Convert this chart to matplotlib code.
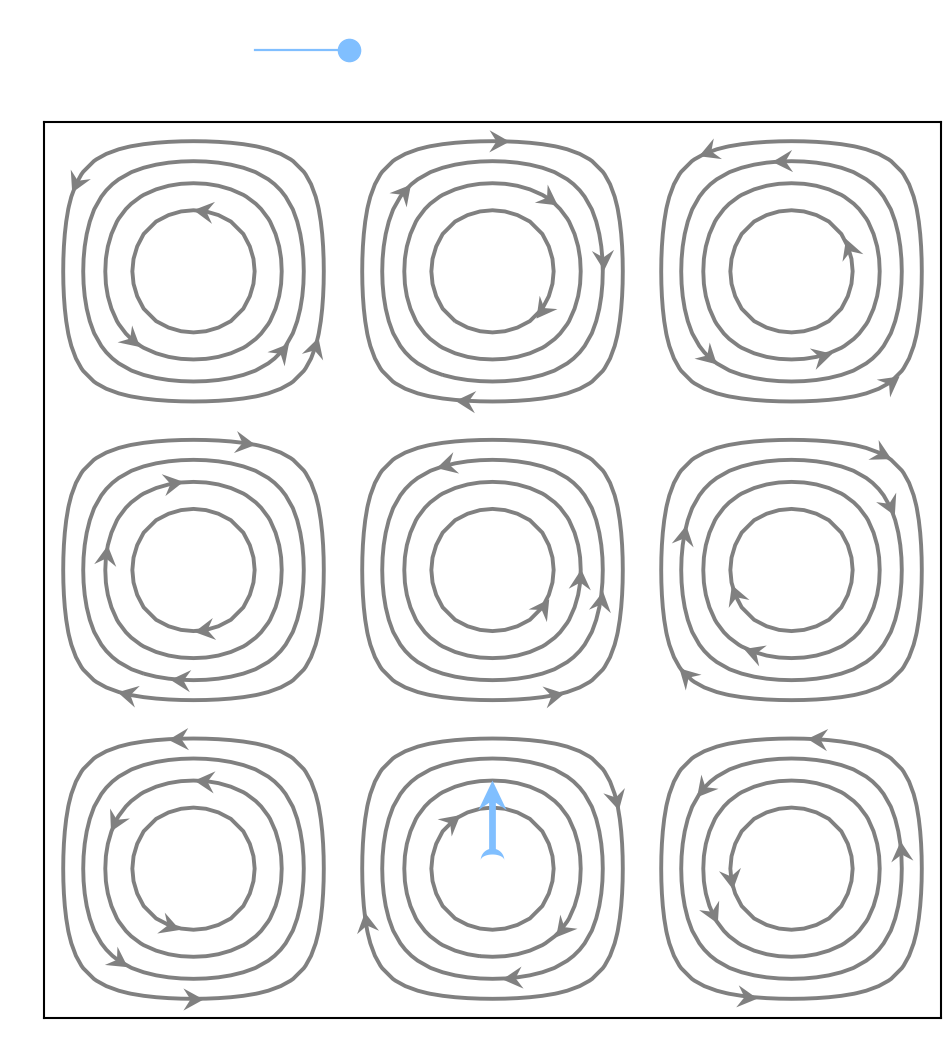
import numpy as np
import matplotlib
matplotlib.use("Agg")
import matplotlib.pyplot as plt
from matplotlib.path import Path
from matplotlib.markers import MarkerStyle
from matplotlib.transforms import Affine2D

# stream function psi = sin(pi x) sin(pi y) on a 3x3 grid of cells
n_cells = 3
levels = [0.8, 0.6, 0.4, 0.2]          # ring 1 (inner) .. ring 4 (outer)

# arrows on the rings: cell column, cell row (from top), ring, angle around cell centre (deg)
arrow_col  = [0, 0, 0, 0, 0,
              1, 1, 1, 1, 1, 1,
              2, 2, 2, 2, 2, 2,
              0, 0, 0, 0, 0, 0,
              1, 1, 1, 1, 1,
              2, 2, 2, 2, 2, 2,
              0, 0, 0, 0, 0, 0,
              1, 1, 1, 1, 1,
              2, 2, 2, 2, 2, 2]
arrow_row  = [0]*17 + [1]*17 + [2]*17
arrow_ring = [4, 1, 2, 3, 4,
              4, 3, 2, 3, 1, 4,
              4, 3, 1, 2, 3, 4,
              4, 2, 2, 1, 3, 4,
              3, 2, 3, 1, 4,
              4, 3, 3, 1, 2, 4,
              4, 2, 2, 1, 3, 4,
              4, 1, 4, 2, 3,
              4, 3, 1, 3, 2, 4]
arrow_ang  = [143, 81, -132, -42, -32,
              87, 138, 52, 6, -38, -102,
              125, 95, 22, -70, -134, -48,
              68, 103, 170, -80, -97, -118,
              114, -6, -16, -36, -64,
              52, 33, 162, -157, -115, -135,
              97, 83, 149, -112, -129, -90,
              29, 130, -157, -41, -80,
              79, 138, -170, 9, -150, -109]

# blue swimmer arrow (tail, tip) and the indicator above the plot
swimmer_tail = (1.5, 0.56)
swimmer_tip = (1.5, 0.795)
indicator_x = [0.706, 1.02]
indicator_y = [3.24, 3.24]

gray = "#808080"
blue = "#80bfff"


def psi(x, y):
    return np.sin(np.pi * x) * np.sin(np.pi * y)


def vel(x, y):
    u = np.pi * np.sin(np.pi * x) * np.cos(np.pi * y)
    v = -np.pi * np.cos(np.pi * x) * np.sin(np.pi * y)
    return u, v


fig = plt.figure(figsize=(9.45, 10.63), dpi=100)
ax = fig.add_axes([44/945, 45/1063, 897/945, 896/1063])

g = np.linspace(0, n_cells, 24 * n_cells + 1)
X, Y = np.meshgrid(g, g)
lv = sorted([-l for l in levels] + levels)
ax.contour(X, Y, psi(X, Y), levels=lv, colors=gray, linewidths=2.8,
           linestyles="solid")

# swept-back arrow head
head = Path([(1, 0), (-1, 1.1), (-0.3, 0), (-1, -1.1), (1, 0)],
            [Path.MOVETO, Path.LINETO, Path.LINETO, Path.LINETO, Path.CLOSEPOLY])

rs = np.linspace(0, 0.5, 4001)
for c, r, ring, a in zip(arrow_col, arrow_row, arrow_ring, arrow_ang):
    cx = c + 0.5
    cy = n_cells - r - 0.5
    t = np.deg2rad(a)
    vals = np.abs(psi(cx + rs * np.cos(t), cy + rs * np.sin(t)))
    k = np.argmax(vals <= levels[ring - 1])
    px, py = cx + rs[k] * np.cos(t), cy + rs[k] * np.sin(t)
    u, v = vel(px, py)
    rot = np.degrees(np.arctan2(v, u))
    m = MarkerStyle(head, transform=Affine2D().rotate_deg(rot))
    ax.plot(px, py, marker=m, markersize=16, color=gray, mec="none", zorder=3)

# blue arrow
ax.quiver(swimmer_tail[0], swimmer_tail[1], swimmer_tip[0] - swimmer_tail[0],
          swimmer_tip[1] - swimmer_tail[1], angles="xy", scale_units="xy", scale=1,
          color=blue, width=0.0075, headwidth=4.2, headlength=4.4,
          headaxislength=3.3, zorder=4)
th = np.linspace(0, np.pi, 30)
outer = np.column_stack([np.cos(th), np.sin(th) * 1.0 - 0.5])
inner = np.column_stack([np.cos(th[::-1]), np.sin(th[::-1]) * 0.5 - 0.5])
cres = Path(np.vstack([outer, inner, outer[:1]]))
ax.plot(swimmer_tail[0], swimmer_tail[1] - 0.01, marker=MarkerStyle(cres),
        markersize=17, color=blue, mec="none", zorder=5)

ax.plot(indicator_x, indicator_y, color=blue, lw=1.6, clip_on=False)
ax.plot(indicator_x[1], indicator_y[1], "o", color=blue, markersize=16,
        clip_on=False)

ax.set_xlim(0, n_cells)
ax.set_ylim(0, n_cells)
ax.set_xticks([])
ax.set_yticks([])
for s in ax.spines.values():
    s.set_linewidth(1.5)

fig.savefig("out.png", dpi=100)
